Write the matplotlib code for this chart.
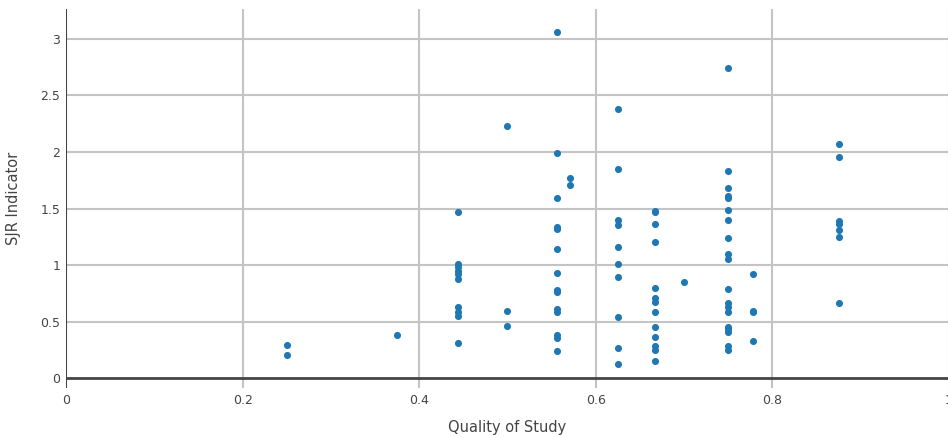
import matplotlib
matplotlib.use("Agg")
import matplotlib.pyplot as plt

# Data: quality score groups and SJR values
q025 = [0.29, 0.20]
q0375 = [0.38]
q0444 = [1.47, 1.01, 0.98, 0.95, 0.92, 0.88, 0.63, 0.58, 0.55, 0.31]
q05 = [2.23, 0.59, 0.46]
q0556 = [3.06, 1.99, 1.59, 1.34, 1.32, 1.14, 0.93, 0.78, 0.76, 0.61, 0.58, 0.38, 0.35, 0.24]
q0571 = [1.77, 1.71]
q0625 = [2.38, 1.85, 1.40, 1.35, 1.16, 1.01, 0.89, 0.54, 0.27, 0.12]
q0667 = [1.48, 1.47, 1.36, 1.20, 0.80, 0.71, 0.67, 0.58, 0.45, 0.36, 0.28, 0.25, 0.15]
q07 = [0.85]
q075 = [2.74, 1.83, 1.68, 1.61, 1.59, 1.49, 1.40, 1.24, 1.10, 1.05, 0.79, 0.66, 0.63, 0.58, 0.45, 0.43, 0.41, 0.28, 0.25]
q0778 = [0.92, 0.59, 0.58, 0.33]
q0875 = [2.07, 1.96, 1.39, 1.36, 1.31, 1.25, 0.66]

groups = {0.25: q025, 0.375: q0375, 0.444: q0444, 0.5: q05, 0.556: q0556,
          0.571: q0571, 0.625: q0625, 0.667: q0667, 0.7: q07, 0.75: q075,
          0.778: q0778, 0.875: q0875}

xs, ys = [], []
for q, vals in groups.items():
    for v in vals:
        xs.append(q)
        ys.append(v)

xticks = [0, 0.2, 0.4, 0.6, 0.8, 1]
xticklabels = ["0", "0.2", "0.4", "0.6", "0.8", "1"]
yticks = [0, 0.5, 1, 1.5, 2, 2.5, 3]
yticklabels = ["0", "0.5", "1", "1.5", "2", "2.5", "3"]

W, H = 948, 438
fig = plt.figure(figsize=(W / 100, H / 100), dpi=100)
left, right, top, bottom = 66, 949, 9, 388
ax = fig.add_axes([left / W, (H - bottom) / H, (right - left) / W, (bottom - top) / H])
ax.set_xlim(0, 1.0)
ax.set_ylim(-0.088, 3.265)

for s in ax.spines.values():
    s.set_visible(False)

grid_c = "#c4c4c4"
for t in xticks[1:]:
    ax.axvline(t, color=grid_c, lw=1.5, zorder=0)
for t in yticks[1:]:
    ax.axhline(t, color=grid_c, lw=1.5, zorder=0)
ax.axhline(0, color="#444444", lw=2, zorder=1)
ax.axvline(0, color="#444444", lw=1.5, zorder=1)

ax.scatter(xs, ys, s=26, color="#1f77b4", linewidths=0, zorder=3)

ax.set_xticks(xticks)
ax.set_xticklabels(xticklabels)
ax.set_yticks(yticks)
ax.set_yticklabels(yticklabels)
ax.tick_params(axis="both", length=0, labelsize=9, labelcolor="#444444")
ax.tick_params(axis="x", pad=4)
ax.tick_params(axis="y", pad=4)

ax.set_xlabel("Quality of Study", fontsize=10.5, color="#444444", labelpad=10)
ax.set_ylabel("SJR Indicator", fontsize=10.5, color="#444444", labelpad=14)

fig.savefig("out.png", dpi=100)
